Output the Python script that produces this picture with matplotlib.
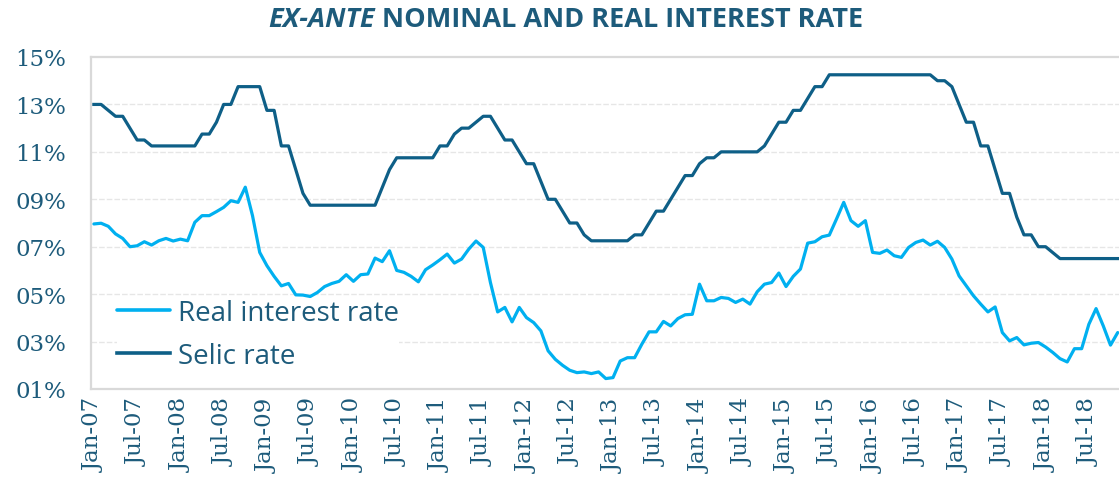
import matplotlib
matplotlib.use("Agg")
import matplotlib.pyplot as plt

# monthly data, Jan-07 .. Nov-18
selic = [
    13.0, 13.0, 12.75, 12.5, 12.5, 12.0, 11.5, 11.5, 11.25, 11.25, 11.25, 11.25,   # 2007
    11.25, 11.25, 11.25, 11.75, 11.75, 12.25, 13.0, 13.0, 13.75, 13.75, 13.75, 13.75,  # 2008
    12.75, 12.75, 11.25, 11.25, 10.25, 9.25, 8.75, 8.75, 8.75, 8.75, 8.75, 8.75,  # 2009
    8.75, 8.75, 8.75, 8.75, 9.5, 10.25, 10.75, 10.75, 10.75, 10.75, 10.75, 10.75,  # 2010
    11.25, 11.25, 11.75, 12.0, 12.0, 12.25, 12.5, 12.5, 12.0, 11.5, 11.5, 11.0,  # 2011
    10.5, 10.5, 9.75, 9.0, 9.0, 8.5, 8.0, 8.0, 7.5, 7.25, 7.25, 7.25,  # 2012
    7.25, 7.25, 7.25, 7.5, 7.5, 8.0, 8.5, 8.5, 9.0, 9.5, 10.0, 10.0,  # 2013
    10.5, 10.75, 10.75, 11.0, 11.0, 11.0, 11.0, 11.0, 11.0, 11.25, 11.75, 12.25,  # 2014
    12.25, 12.75, 12.75, 13.25, 13.75, 13.75, 14.25, 14.25, 14.25, 14.25, 14.25, 14.25,  # 2015
    14.25, 14.25, 14.25, 14.25, 14.25, 14.25, 14.25, 14.25, 14.25, 14.0, 14.0, 13.75,  # 2016
    13.0, 12.25, 12.25, 11.25, 11.25, 10.25, 9.25, 9.25, 8.25, 7.5, 7.5, 7.0,  # 2017
    7.0, 6.75, 6.5, 6.5, 6.5, 6.5, 6.5, 6.5, 6.5, 6.5, 6.5,  # 2018
]

real_rate = [
    7.96, 7.99, 7.86, 7.54, 7.35, 7.0, 7.04, 7.21, 7.07, 7.25, 7.35, 7.24,
    7.32, 7.25, 8.03, 8.31, 8.31, 8.48, 8.66, 8.94, 8.87, 9.51, 8.31, 6.76,
    6.2, 5.75, 5.35, 5.45, 4.97, 4.96, 4.9, 5.07, 5.32, 5.45, 5.54, 5.82,
    5.54, 5.82, 5.85, 6.52, 6.37, 6.83, 6.0, 5.92, 5.75, 5.52, 6.03, 6.23,
    6.45, 6.69, 6.31, 6.48, 6.9, 7.24, 6.97, 5.49, 4.25, 4.44, 3.83, 4.44,
    4.01, 3.8, 3.45, 2.61, 2.25, 2.0, 1.79, 1.69, 1.72, 1.65, 1.72, 1.44,
    1.48, 2.18, 2.32, 2.32, 2.89, 3.41, 3.41, 3.85, 3.66, 3.97, 4.13, 4.15,
    5.42, 4.72, 4.72, 4.86, 4.82, 4.65, 4.79, 4.58, 5.1, 5.42, 5.49, 5.89,
    5.32, 5.75, 6.06, 7.15, 7.21, 7.42, 7.49, 8.17, 8.87, 8.1, 7.86, 8.1,
    6.76, 6.72, 6.86, 6.62, 6.55, 6.97, 7.18, 7.28, 7.07, 7.23, 6.97, 6.48,
    5.77, 5.35, 4.93, 4.58, 4.25, 4.46, 3.38, 3.03, 3.17, 2.86, 2.93, 2.96,
    2.77, 2.54, 2.28, 2.14, 2.7, 2.7, 3.73, 4.39, 3.66, 2.85, 3.38,
]

months = ["Jan", "Jul"]
years = range(2007, 2019)
tick_labels = [f"{m}-{y % 100:02d}" for y in years for m in months]
y_ticks = [1, 3, 5, 7, 9, 11, 13, 15]

text_col = "#1d5b7b"
light = "#00b0f0"
dark = "#0e5f87"

W, H = 1119, 481
fig = plt.figure(figsize=(W / 100, H / 100), dpi=100)
ax = fig.add_axes([91 / W, 1 - 390 / H, (W - 91) / W, (390 - 58) / H])

x = list(range(len(selic)))
ax.plot(x, real_rate, color=light, lw=2.3, solid_joinstyle="round",
        solid_capstyle="round", label="Real interest rate", zorder=3)
ax.plot(x, selic, color=dark, lw=2.3, solid_joinstyle="round",
        label="Selic rate", zorder=3)

ax.set_xlim(-0.4, -0.4 + (W - 91) / 7.21)
ax.set_ylim(1, 15)

ax.set_yticks(y_ticks)
ax.set_yticklabels([f"{v:02d}%" for v in y_ticks])
ax.set_xticks(range(0, 6 * len(tick_labels), 6))
ax.set_xticklabels(tick_labels, rotation=90)
ax.tick_params(axis="y", length=0, pad=18, labelsize=16.5, labelcolor=text_col)
ax.tick_params(axis="x", length=0, pad=6, labelsize=16.5, labelcolor=text_col)
for lab in ax.get_xticklabels() + ax.get_yticklabels():
    lab.set_family("DejaVu Serif")

for s in ["top", "bottom", "left"]:
    ax.spines[s].set_color("#d9d9d9")
    ax.spines[s].set_linewidth(1.6)
ax.spines["right"].set_visible(False)

for v in y_ticks[1:-1]:
    ax.axhline(v, color="#e6e6e6", lw=1.0, dashes=(4, 1.5), zorder=1)

leg = ax.legend(loc="upper left", bbox_to_anchor=(117 / W, 1 - 300 / H),
                bbox_transform=fig.transFigure, frameon=True, facecolor="white",
                edgecolor="none", framealpha=1, fancybox=False,
                prop={"family": "Open Sans", "size": 20},
                handlelength=1.9, handletextpad=0.3, labelspacing=0.53,
                borderpad=0.0, borderaxespad=0)
for t in leg.get_texts():
    t.set_color(text_col)
for h in leg.get_lines():
    h.set_linewidth(2.6)

# title: italic part + upright part, centred as a whole
ty = 1 - 20 / H
t1 = fig.text(0, ty, "EX-ANTE", fontsize=19.5, fontweight="bold", style="italic",
              family="Open Sans", color=text_col, va="center")
t2 = fig.text(0, ty, " NOMINAL AND REAL INTEREST RATE", fontsize=19.5,
              fontweight="bold", family="Open Sans", color=text_col, va="center")
fig.canvas.draw()
r = fig.canvas.get_renderer()
w1 = t1.get_window_extent(r).width
w2 = t2.get_window_extent(r).width
x0 = 566 - (w1 + w2) / 2
t1.set_x(x0 / W)
t2.set_x((x0 + w1) / W)

fig.savefig("out.png", dpi=100)
